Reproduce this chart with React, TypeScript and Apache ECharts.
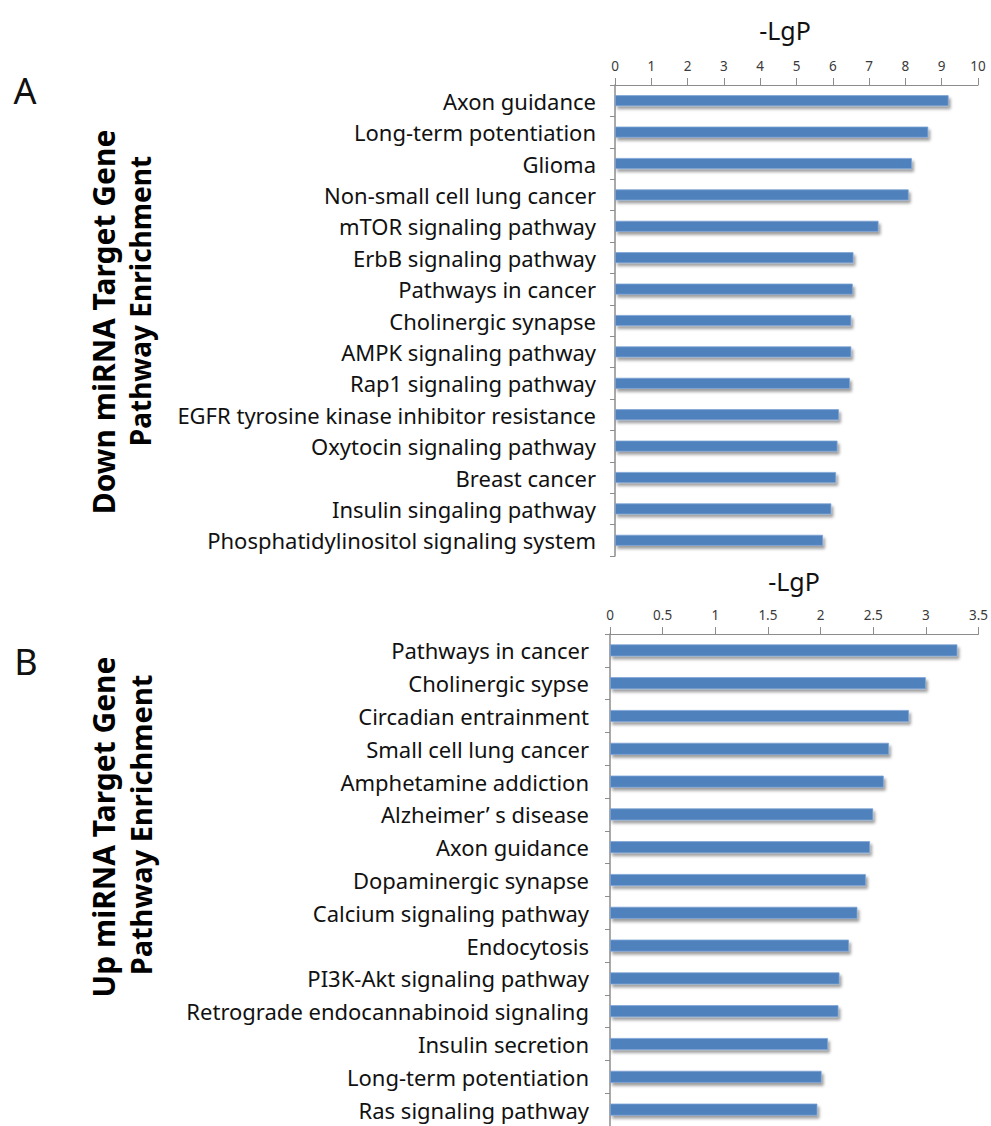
import React, { useEffect, useRef } from "react";
import * as echarts from "echarts";

const downCategories = [
  "Axon guidance",
  "Long-term potentiation",
  "Glioma",
  "Non-small cell lung cancer",
  "mTOR signaling pathway",
  "ErbB signaling pathway",
  "Pathways in cancer",
  "Cholinergic synapse",
  "AMPK signaling pathway",
  "Rap1 signaling pathway",
  "EGFR tyrosine kinase inhibitor resistance",
  "Oxytocin signaling pathway",
  "Breast cancer",
  "Insulin singaling pathway",
  "Phosphatidylinositol signaling system",
];
const downValues = [9.19, 8.63, 8.18, 8.09, 7.26, 6.57, 6.55, 6.51, 6.51, 6.47, 6.17, 6.13, 6.09, 5.96, 5.73];

const upCategories = [
  "Pathways in cancer",
  "Cholinergic sypse",
  "Circadian entrainment",
  "Small cell lung cancer",
  "Amphetamine addiction",
  "Alzheimer’ s disease",
  "Axon guidance",
  "Dopaminergic synapse",
  "Calcium signaling pathway",
  "Endocytosis",
  "PI3K-Akt signaling pathway",
  "Retrograde endocannabinoid signaling",
  "Insulin secretion",
  "Long-term potentiation",
  "Ras signaling pathway",
];
const upValues = [3.3, 3.0, 2.84, 2.65, 2.6, 2.5, 2.47, 2.43, 2.35, 2.27, 2.18, 2.17, 2.07, 2.01, 1.97];

const downTicks = { min: 0, max: 10, interval: 1 };
const upTicks = { min: 0, max: 3.5, interval: 0.5 };

const FONT = "'Noto Sans', 'Open Sans', sans-serif";

export default function App() {
  const ref = useRef<HTMLDivElement>(null);
  useEffect(() => {
    if (!ref.current) return;
    const chart = echarts.init(ref.current, undefined, { renderer: "svg" });
    const axisColor = "#8c8c8c";
    const xAxisCommon = {
      type: "value" as const,
      position: "top" as const,
      axisLine: { show: true, lineStyle: { color: axisColor, width: 1 } },
      axisTick: { show: true, length: 7, lineStyle: { color: axisColor } },
      splitLine: { show: false },
      axisLabel: { color: "#3a3a3a", fontSize: 13.5, fontFamily: FONT, margin: 12 },
    };
    const yAxisCommon = {
      type: "category" as const,
      inverse: true,
      axisLine: { show: true, lineStyle: { color: axisColor, width: 1.5 } },
      axisTick: { show: true, length: 5, lineStyle: { color: axisColor } },
      axisLabel: { color: "#111", fontSize: 22, fontFamily: FONT },
    };
    const barStyle = {
      color: "#4F81BD",
      borderColor: "#7ea3d4",
      borderWidth: 0.8,
      shadowColor: "rgba(0,0,0,0.38)",
      shadowBlur: 3,
      shadowOffsetX: 2,
      shadowOffsetY: 3,
    };
    const titleStyle = (text: string, size: number) => ({
      text,
      fontSize: size,
      fontWeight: "bold",
      fontFamily: FONT,
      fill: "#000",
      align: "center",
      verticalAlign: "middle",
    });
    chart.setOption({
      animation: false,
      backgroundColor: "#fff",
      grid: [
        { left: 615, right: 13, top: 85, height: 471 },
        { left: 610, right: 11, top: 634, height: 492 },
      ],
      xAxis: [
        { ...xAxisCommon, gridIndex: 0, ...downTicks },
        { ...xAxisCommon, gridIndex: 1, ...upTicks },
      ],
      yAxis: [
        { ...yAxisCommon, gridIndex: 0, data: downCategories, axisLabel: { ...yAxisCommon.axisLabel, margin: 19 } },
        { ...yAxisCommon, gridIndex: 1, data: upCategories, axisLabel: { ...yAxisCommon.axisLabel, margin: 21 } },
      ],
      series: [
        { type: "bar", xAxisIndex: 0, yAxisIndex: 0, data: downValues, barWidth: 11, itemStyle: barStyle },
        { type: "bar", xAxisIndex: 1, yAxisIndex: 1, data: upValues, barWidth: 12, itemStyle: barStyle },
      ],
      graphic: [
        { type: "text", x: 785, y: 30, style: { text: "-LgP", fontSize: 25, fontFamily: FONT, fill: "#111", align: "center", verticalAlign: "middle" } },
        { type: "text", x: 794, y: 581, style: { text: "-LgP", fontSize: 25, fontFamily: FONT, fill: "#111", align: "center", verticalAlign: "middle" } },
        { type: "text", x: 25, y: 90, style: { text: "A", fontSize: 36, fontFamily: FONT, fill: "#111", align: "center", verticalAlign: "middle" } },
        { type: "text", x: 26, y: 661, style: { text: "B", fontSize: 36, fontFamily: FONT, fill: "#111", align: "center", verticalAlign: "middle" } },
        { type: "text", x: 103, y: 322, rotation: Math.PI / 2, style: titleStyle("Down miRNA Target Gene", 30) },
        { type: "text", x: 140, y: 301, rotation: Math.PI / 2, style: titleStyle("Pathway Enrichment", 28) },
        { type: "text", x: 103, y: 827, rotation: Math.PI / 2, style: titleStyle("Up miRNA Target Gene", 30) },
        { type: "text", x: 140, y: 825, rotation: Math.PI / 2, style: titleStyle("Pathway Enrichment", 29) },
      ],
    });
    return () => chart.dispose();
  }, []);
  return <div ref={ref} style={{ position: "fixed", left: 0, top: 0, width: 991, height: 1126 }} />;
}
